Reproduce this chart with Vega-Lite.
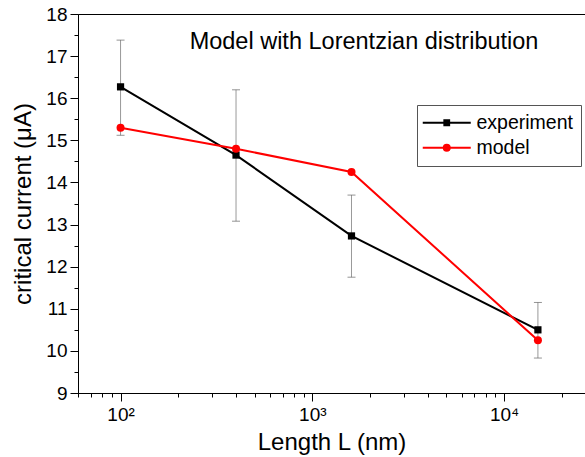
{
  "$schema": "https://vega.github.io/schema/vega-lite/v6.json",
  "width": 507,
  "height": 379,
  "autosize": {"type": "none"},
  "padding": {"left": 78, "top": 14, "right": 0, "bottom": 64},
  "background": "white",
  "config": {
    "font": "Liberation Sans",
    "view": {"stroke": "black", "strokeWidth": 1},
    "axis": {"domainColor": "black", "tickColor": "black", "labelColor": "black", "titleColor": "black", "labelFont": "Liberation Sans", "titleFont": "Liberation Sans", "titleFontWeight": "normal", "grid": false}
  },
  "data": {
    "values": [
      {"series": "experiment", "L": 100, "I": 16.27, "lo": 15.12, "hi": 17.38},
      {"series": "experiment", "L": 400, "I": 14.65, "lo": 13.08, "hi": 16.2},
      {"series": "experiment", "L": 1600, "I": 12.73, "lo": 11.75, "hi": 13.7},
      {"series": "experiment", "L": 15000, "I": 10.5, "lo": 9.83, "hi": 11.15},
      {"series": "model", "L": 100, "I": 15.3},
      {"series": "model", "L": 400, "I": 14.8},
      {"series": "model", "L": 1600, "I": 14.25},
      {"series": "model", "L": 15000, "I": 10.25}
    ]
  },
  "encoding": {
    "x": {
      "field": "L", "type": "quantitative",
      "scale": {"type": "log", "domain": [60, 26400], "nice": false},
      "axis": {
        "title": "Length L (nm)", "titleFontSize": 24, "titlePadding": 6,
        "values": [60, 70, 80, 90, 100, 200, 300, 400, 500, 600, 700, 800, 900, 1000, 2000, 3000, 4000, 5000, 6000, 7000, 8000, 9000, 10000, 20000],
        "labelExpr": "datum.value == 100 ? '10²' : datum.value == 1000 ? '10³' : datum.value == 10000 ? '10⁴' : ''",
        "labelFontSize": 19, "labelPadding": 4,
        "tickSize": {"condition": {"test": "datum.value == 100 || datum.value == 1000 || datum.value == 10000", "value": 8}, "value": 4},
        "labelFlush": false, "labelOverlap": false
      }
    },
    "y": {
      "field": "I", "type": "quantitative",
      "scale": {"domain": [9, 18], "nice": false, "zero": false},
      "axis": {
        "title": "critical current (μA)", "titleFontSize": 24, "titlePadding": 10,
        "values": [9, 9.5, 10, 10.5, 11, 11.5, 12, 12.5, 13, 13.5, 14, 14.5, 15, 15.5, 16, 16.5, 17, 17.5, 18],
        "labelExpr": "datum.value % 1 == 0 ? format(datum.value, 'd') : ''",
        "labelFontSize": 19, "labelPadding": 3,
        "tickSize": {"condition": {"test": "datum.value % 1 == 0", "value": 8}, "value": 4},
        "labelFlush": false, "labelOverlap": false
      }
    }
  },
  "layer": [
    {
      "transform": [{"filter": "datum.series == 'experiment'"}],
      "mark": {"type": "rule", "color": "#999999", "strokeWidth": 1},
      "encoding": {"y": {"field": "lo", "type": "quantitative"}, "y2": {"field": "hi"}}
    },
    {
      "transform": [{"filter": "datum.series == 'experiment'"}],
      "mark": {"type": "tick", "orient": "horizontal", "color": "#666666", "size": 8, "thickness": 1},
      "encoding": {"y": {"field": "lo", "type": "quantitative"}}
    },
    {
      "transform": [{"filter": "datum.series == 'experiment'"}],
      "mark": {"type": "tick", "orient": "horizontal", "color": "#666666", "size": 8, "thickness": 1},
      "encoding": {"y": {"field": "hi", "type": "quantitative"}}
    },
    {
      "mark": {"type": "line", "strokeWidth": 2},
      "encoding": {
        "color": {
          "field": "series", "type": "nominal",
          "scale": {"domain": ["experiment", "model"], "range": ["#000000", "#ff0000"]},
          "legend": {
            "title": null, "orient": "none", "legendX": 339, "legendY": 91,
            "strokeColor": "#555555", "padding": 8,
            "labelFontSize": 19.5, "labelFont": "Liberation Sans", "labelColor": "black",
            "symbolSize": 256, "symbolOffset": 12, "labelOffset": 20, "rowPadding": 4,
            "encode": {
              "symbols": {
                "update": {
                  "shape": {"signal": "datum.value == 'experiment' ? 'M-3,0H3M-0.3,-0.3H0.3V0.3H-0.3Z' : 'M-3,0H3M-0.375,0A0.375,0.375,0,1,0,0.375,0A0.375,0.375,0,1,0,-0.375,0Z'"},
                  "size": {"value": 256},
                  "fill": {"scale": "color", "field": "value"},
                  "stroke": {"scale": "color", "field": "value"},
                  "strokeWidth": {"value": 2},
                  "opacity": {"value": 1},
                  "fillOpacity": {"value": 1},
                  "strokeOpacity": {"value": 1}
                }
              }
            }
          }
        }
      }
    },
    {
      "transform": [{"filter": "datum.series == 'experiment'"}],
      "mark": {"type": "point", "shape": "square", "filled": true, "opacity": 1, "size": 52, "color": "#000000"},
      "encoding": {}
    },
    {
      "transform": [{"filter": "datum.series == 'model'"}],
      "mark": {"type": "point", "shape": "circle", "filled": true, "opacity": 1, "size": 64, "color": "#ff0000"},
      "encoding": {}
    },
    {
      "data": {"values": [{"label": "Model with Lorentzian distribution", "L": 1860, "I": 17.33}]},
      "mark": {"type": "text", "fontSize": 23.5, "fontWeight": "normal", "font": "Liberation Sans", "color": "black", "baseline": "middle", "align": "center"},
      "encoding": {
        "text": {"field": "label", "type": "nominal"}
      }
    }
  ]
}
